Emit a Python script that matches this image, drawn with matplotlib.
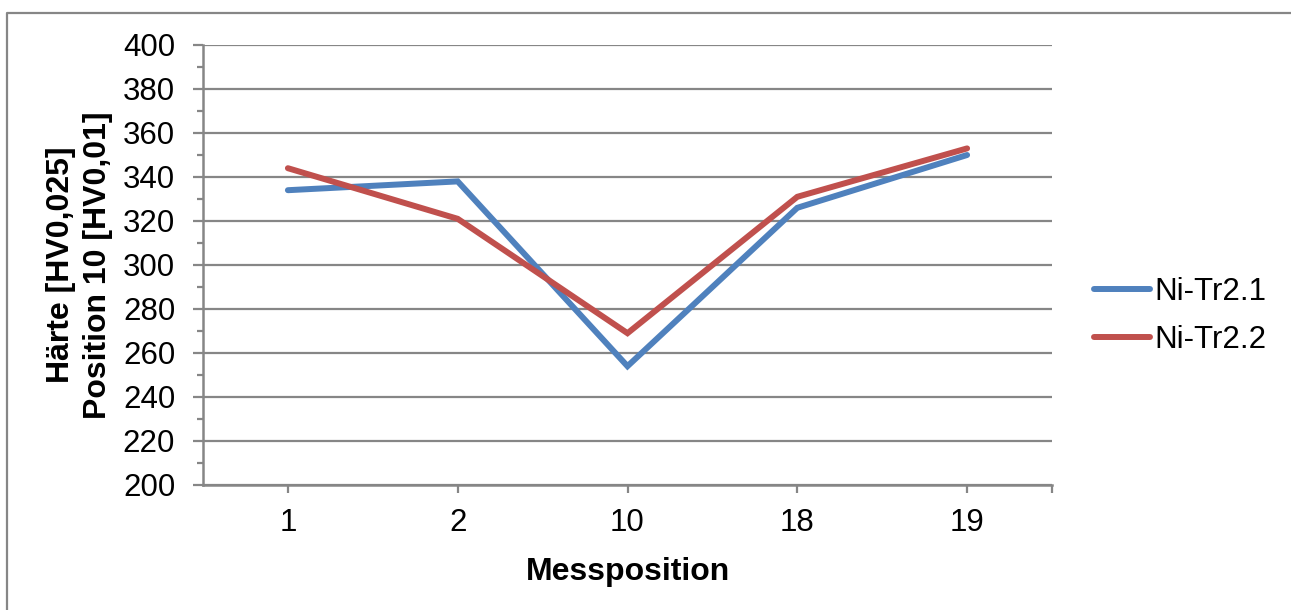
import matplotlib
matplotlib.use("Agg")
import matplotlib.pyplot as plt
from matplotlib.lines import Line2D

categories = ["1", "2", "10", "18", "19"]
series_names = ["Ni-Tr2.1", "Ni-Tr2.2"]
ni_tr21 = [334, 338, 254, 326, 350]
ni_tr22 = [344, 321, 269, 331, 353]
colors = ["#4F81BD", "#C0504D"]
y_ticks = list(range(200, 401, 20))

plt.rcParams['font.family'] = ['Liberation Sans', 'DejaVu Sans']

W, H = 1291, 610
fig = plt.figure(figsize=(W / 100, H / 100), dpi=100)
fig.patch.set_facecolor("white")

# outer chart border
border = Line2D([7 / W, 7 / W, 1.01], [-0.01, 1 - 13 / H, 1 - 13 / H],
                transform=fig.transFigure, color="#868686", lw=1.6)
fig.add_artist(border)

ax = fig.add_axes([203 / W, 1 - 485 / H, (1052 - 203) / W, (485 - 45) / H])
x = list(range(len(categories)))
for vals, name, c in zip([ni_tr21, ni_tr22], series_names, colors):
    ax.plot(x, vals, color=c, lw=4.3, label=name, solid_capstyle="round",
            solid_joinstyle="miter", zorder=3)

ax.set_xlim(-0.5, len(categories) - 0.5)
ax.set_ylim(200, 400)
ax.set_yticks(y_ticks)
ax.set_yticks(list(range(210, 400, 20)), minor=True)
ax.set_xticks(x)
ax.set_xticklabels(categories)
ax.set_xticks([len(categories) - 0.5], minor=True)

gray = "#868686"
ax.grid(axis="y", which="major", color=gray, lw=1.6, zorder=1)
for s in ["top", "right"]:
    ax.spines[s].set_visible(False)
for s in ["left", "bottom"]:
    ax.spines[s].set_color(gray)
    ax.spines[s].set_linewidth(1.8)

ax.tick_params(axis="y", which="major", length=7.5, width=1.6, color=gray,
               labelsize=22.5, pad=12.5)
ax.tick_params(axis="y", which="minor", length=4.5, width=1.6, color=gray)
ax.tick_params(axis="x", which="both", length=5.5, width=1.6, color=gray,
               labelsize=22.5, pad=11)

ax.set_xlabel("Messposition", fontsize=23, fontweight="bold", labelpad=14)
ax.set_ylabel("Härte [HV0,025]\nPosition 10 [HV0,01]", fontsize=23,
              fontweight="bold", labelpad=7, linespacing=1.3)

leg = ax.legend(loc="center left", bbox_to_anchor=(1078 / W, 1 - 316 / H),
                bbox_transform=fig.transFigure, frameon=False, fontsize=22.5,
                handlelength=1.8, handletextpad=0.15, labelspacing=0.55,
                borderpad=0)

fig.savefig("out.png", dpi=100, facecolor="white")
